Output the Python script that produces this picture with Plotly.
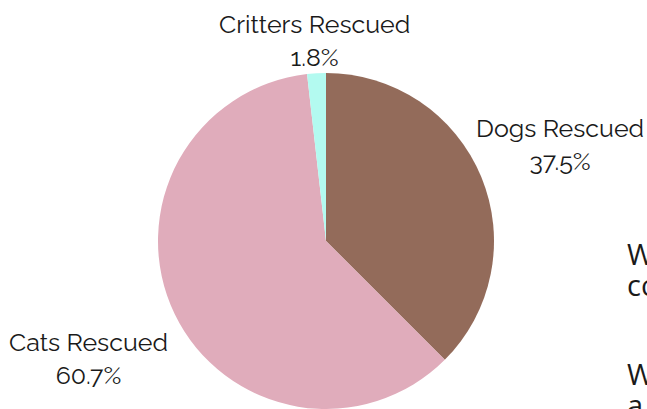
import plotly.graph_objects as go

labels = ["Dogs Rescued", "Cats Rescued", "Critters Rescued"]
values = [37.5, 60.7, 1.8]
colors = ["#936B5A", "#E0ACBB", "#B3FAF0"]

W, H = 647, 409
# label anchor positions in pixels (centre of each two-line label)
label_pos = [(560, 144), (88, 358), (314, 40)]

fig = go.Figure(go.Pie(
    labels=labels,
    values=values,
    marker=dict(colors=colors, line=dict(width=0)),
    sort=False,
    direction="clockwise",
    rotation=0,
    textinfo="none",
    showlegend=False,
    hoverinfo="label+percent",
    domain=dict(x=[157 / W, 495 / W], y=[0, 1 - 73 / H]),
))

total = sum(values)
anns = []
for lab, val, (px, py) in zip(labels, values, label_pos):
    anns.append(dict(
        text=f"{lab}<br>{100 * val / total:.1f}%",
        x=px / W, y=1 - py / H, xref="paper", yref="paper",
        xanchor="center", yanchor="middle", showarrow=False,
        font=dict(family="Raleway, Lato, sans-serif", size=25, color="#1a1a1a"),
    ))

side_text = [("W", 253), ("co", 284), ("W", 373), ("a", 404)]
for t, py in side_text:
    anns.append(dict(
        text=t, x=625 / W, y=1 - py / H, xref="paper", yref="paper",
        xanchor="left", yanchor="middle", showarrow=False,
        font=dict(family="Open Sans, sans-serif", size=29, color="#1a1a1a"),
    ))

fig.update_layout(
    width=W,
    height=H,
    margin=dict(l=0, r=0, t=0, b=0),
    paper_bgcolor="white",
    plot_bgcolor="white",
    annotations=anns,
)
fig.write_html(
    "out.html",
    config={"displayModeBar": False},
    post_script="document.body.style.margin='0';document.body.style.overflow='hidden';",
)
